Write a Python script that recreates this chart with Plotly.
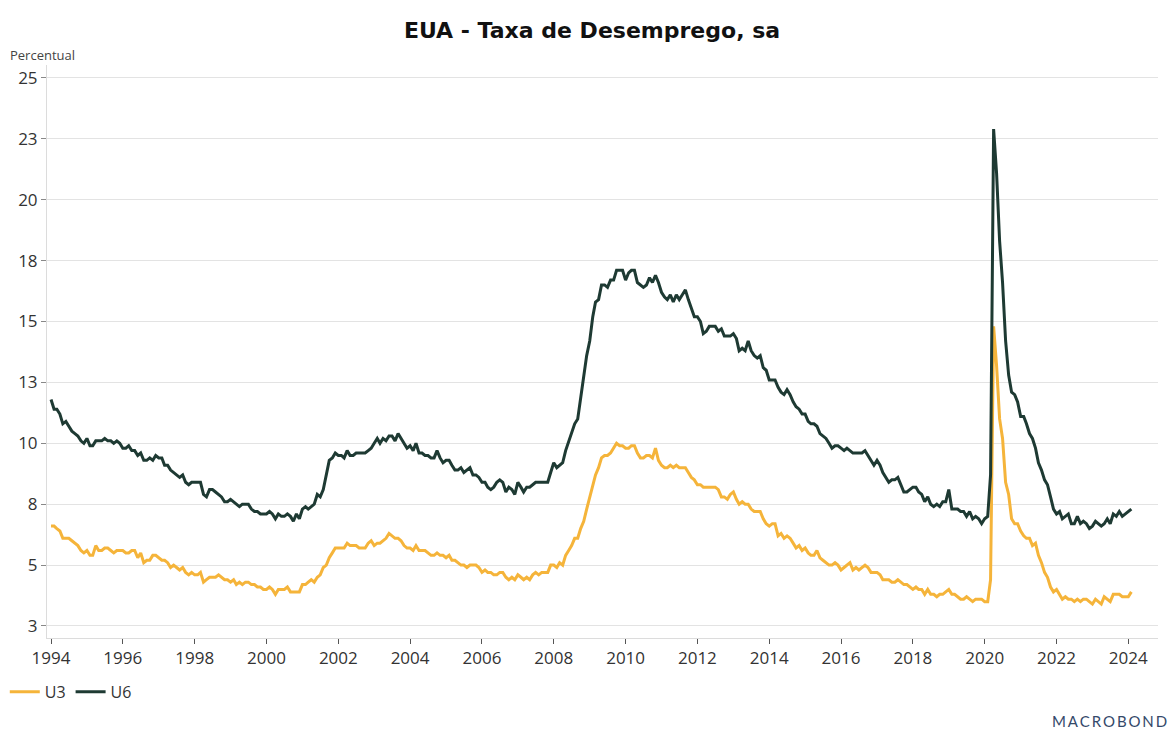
import plotly.graph_objects as go

# Monthly data, Jan 1994 - Feb 2024
start_year = 1994
u3_by_year = [
    [6.6, 6.6, 6.5, 6.4, 6.1, 6.1, 6.1, 6.0, 5.9, 5.8, 5.6, 5.5],  # 1994
    [5.6, 5.4, 5.4, 5.8, 5.6, 5.6, 5.7, 5.7, 5.6, 5.5, 5.6, 5.6],  # 1995
    [5.6, 5.5, 5.5, 5.6, 5.6, 5.3, 5.5, 5.1, 5.2, 5.2, 5.4, 5.4],  # 1996
    [5.3, 5.2, 5.2, 5.1, 4.9, 5.0, 4.9, 4.8, 4.9, 4.7, 4.6, 4.7],  # 1997
    [4.6, 4.6, 4.7, 4.3, 4.4, 4.5, 4.5, 4.5, 4.6, 4.5, 4.4, 4.4],  # 1998
    [4.3, 4.4, 4.2, 4.3, 4.2, 4.3, 4.3, 4.2, 4.2, 4.1, 4.1, 4.0],  # 1999
    [4.0, 4.1, 4.0, 3.8, 4.0, 4.0, 4.0, 4.1, 3.9, 3.9, 3.9, 3.9],  # 2000
    [4.2, 4.2, 4.3, 4.4, 4.3, 4.5, 4.6, 4.9, 5.0, 5.3, 5.5, 5.7],  # 2001
    [5.7, 5.7, 5.7, 5.9, 5.8, 5.8, 5.8, 5.7, 5.7, 5.7, 5.9, 6.0],  # 2002
    [5.8, 5.9, 5.9, 6.0, 6.1, 6.3, 6.2, 6.1, 6.1, 6.0, 5.8, 5.7],  # 2003
    [5.7, 5.6, 5.8, 5.6, 5.6, 5.6, 5.5, 5.4, 5.4, 5.5, 5.4, 5.4],  # 2004
    [5.3, 5.4, 5.2, 5.2, 5.1, 5.0, 5.0, 4.9, 5.0, 5.0, 5.0, 4.9],  # 2005
    [4.7, 4.8, 4.7, 4.7, 4.6, 4.6, 4.7, 4.7, 4.5, 4.4, 4.5, 4.4],  # 2006
    [4.6, 4.5, 4.4, 4.5, 4.4, 4.6, 4.7, 4.6, 4.7, 4.7, 4.7, 5.0],  # 2007
    [5.0, 4.9, 5.1, 5.0, 5.4, 5.6, 5.8, 6.1, 6.1, 6.5, 6.8, 7.3],  # 2008
    [7.8, 8.3, 8.7, 9.0, 9.4, 9.5, 9.5, 9.6, 9.8, 10.0, 9.9, 9.9],  # 2009
    [9.8, 9.8, 9.9, 9.9, 9.6, 9.4, 9.4, 9.5, 9.5, 9.4, 9.8, 9.3],  # 2010
    [9.1, 9.0, 9.0, 9.1, 9.0, 9.1, 9.0, 9.0, 9.0, 8.8, 8.6, 8.5],  # 2011
    [8.3, 8.3, 8.2, 8.2, 8.2, 8.2, 8.2, 8.1, 7.8, 7.8, 7.7, 7.9],  # 2012
    [8.0, 7.7, 7.5, 7.6, 7.5, 7.5, 7.3, 7.2, 7.2, 7.2, 6.9, 6.7],  # 2013
    [6.6, 6.7, 6.7, 6.2, 6.3, 6.1, 6.2, 6.1, 5.9, 5.7, 5.8, 5.6],  # 2014
    [5.7, 5.5, 5.4, 5.4, 5.6, 5.3, 5.2, 5.1, 5.0, 5.0, 5.1, 5.0],  # 2015
    [4.8, 4.9, 5.0, 5.1, 4.8, 4.9, 4.8, 4.9, 5.0, 4.9, 4.7, 4.7],  # 2016
    [4.7, 4.6, 4.4, 4.4, 4.4, 4.3, 4.3, 4.4, 4.3, 4.2, 4.2, 4.1],  # 2017
    [4.0, 4.1, 4.0, 4.0, 3.8, 4.0, 3.8, 3.8, 3.7, 3.8, 3.8, 3.9],  # 2018
    [4.0, 3.8, 3.8, 3.7, 3.6, 3.6, 3.7, 3.6, 3.5, 3.6, 3.6, 3.6],  # 2019
    [3.5, 3.5, 4.4, 14.8, 13.2, 11.0, 10.2, 8.4, 7.9, 6.9, 6.7, 6.7],  # 2020
    [6.4, 6.2, 6.1, 6.1, 5.8, 5.9, 5.4, 5.1, 4.7, 4.5, 4.1, 3.9],  # 2021
    [4.0, 3.8, 3.6, 3.7, 3.6, 3.6, 3.5, 3.6, 3.5, 3.6, 3.6, 3.5],  # 2022
    [3.4, 3.6, 3.5, 3.4, 3.7, 3.6, 3.5, 3.8, 3.8, 3.8, 3.7, 3.7],  # 2023
    [3.7, 3.9],                                                    # 2024
]
u6_by_year = [
    [11.8, 11.4, 11.4, 11.2, 10.8, 10.9, 10.7, 10.5, 10.4, 10.3, 10.1, 10.0],  # 1994
    [10.2, 9.9, 9.9, 10.1, 10.1, 10.1, 10.2, 10.1, 10.1, 10.0, 10.1, 10.0],    # 1995
    [9.8, 9.8, 9.9, 9.7, 9.7, 9.5, 9.6, 9.3, 9.3, 9.4, 9.3, 9.5],              # 1996
    [9.4, 9.4, 9.1, 9.1, 8.9, 8.8, 8.7, 8.6, 8.7, 8.4, 8.3, 8.4],              # 1997
    [8.4, 8.4, 8.4, 7.9, 7.8, 8.1, 8.1, 8.0, 7.9, 7.8, 7.6, 7.6],              # 1998
    [7.7, 7.6, 7.5, 7.4, 7.5, 7.5, 7.5, 7.3, 7.2, 7.2, 7.1, 7.1],              # 1999
    [7.1, 7.2, 7.1, 6.9, 7.1, 7.0, 7.0, 7.1, 7.0, 6.8, 7.1, 6.9],              # 2000
    [7.3, 7.4, 7.3, 7.4, 7.5, 7.9, 7.8, 8.1, 8.7, 9.3, 9.4, 9.6],              # 2001
    [9.5, 9.5, 9.4, 9.7, 9.5, 9.5, 9.6, 9.6, 9.6, 9.6, 9.7, 9.8],              # 2002
    [10.0, 10.2, 10.0, 10.2, 10.1, 10.3, 10.3, 10.1, 10.4, 10.2, 10.0, 9.8],   # 2003
    [9.9, 9.7, 10.0, 9.6, 9.6, 9.5, 9.5, 9.4, 9.4, 9.7, 9.4, 9.2],             # 2004
    [9.3, 9.3, 9.1, 8.9, 8.9, 9.0, 8.8, 8.9, 9.0, 8.7, 8.7, 8.6],              # 2005
    [8.4, 8.4, 8.2, 8.1, 8.2, 8.4, 8.5, 8.4, 8.0, 8.2, 8.1, 7.9],              # 2006
    [8.4, 8.2, 8.0, 8.2, 8.2, 8.3, 8.4, 8.4, 8.4, 8.4, 8.4, 8.8],              # 2007
    [9.2, 9.0, 9.1, 9.2, 9.7, 10.1, 10.5, 10.8, 11.0, 11.8, 12.7, 13.6],       # 2008
    [14.2, 15.2, 15.8, 15.9, 16.5, 16.5, 16.4, 16.7, 16.7, 17.1, 17.1, 17.1],  # 2009
    [16.7, 17.0, 17.1, 17.1, 16.6, 16.5, 16.4, 16.5, 16.8, 16.6, 16.9, 16.6],  # 2010
    [16.2, 16.0, 15.9, 16.1, 15.8, 16.1, 15.9, 16.1, 16.3, 15.9, 15.5, 15.2],  # 2011
    [15.2, 15.0, 14.5, 14.6, 14.8, 14.8, 14.8, 14.6, 14.7, 14.4, 14.4, 14.4],  # 2012
    [14.5, 14.3, 13.8, 13.9, 13.8, 14.2, 13.8, 13.6, 13.5, 13.6, 13.1, 13.0],  # 2013
    [12.6, 12.6, 12.6, 12.3, 12.1, 12.0, 12.2, 12.0, 11.7, 11.5, 11.4, 11.2],  # 2014
    [11.2, 10.9, 10.8, 10.8, 10.7, 10.4, 10.3, 10.2, 10.0, 9.8, 9.9, 9.9],     # 2015
    [9.8, 9.7, 9.8, 9.7, 9.6, 9.6, 9.6, 9.6, 9.7, 9.5, 9.3, 9.1],              # 2016
    [9.3, 9.1, 8.8, 8.6, 8.4, 8.5, 8.5, 8.6, 8.3, 8.0, 8.0, 8.1],              # 2017
    [8.2, 8.2, 8.0, 7.9, 7.6, 7.8, 7.5, 7.4, 7.5, 7.4, 7.6, 7.6],              # 2018
    [8.1, 7.3, 7.3, 7.3, 7.2, 7.2, 7.0, 7.2, 6.9, 7.0, 6.9, 6.7],              # 2019
    [6.9, 7.0, 8.7, 22.9, 21.1, 18.3, 16.6, 14.2, 12.8, 12.1, 12.0, 11.7],     # 2020
    [11.1, 11.1, 10.8, 10.4, 10.2, 9.8, 9.2, 8.9, 8.5, 8.3, 7.8, 7.3],         # 2021
    [7.1, 7.2, 6.9, 7.0, 7.1, 6.7, 6.7, 7.0, 6.7, 6.8, 6.7, 6.5],              # 2022
    [6.6, 6.8, 6.7, 6.6, 6.7, 6.9, 6.7, 7.1, 7.0, 7.2, 7.0, 7.1],              # 2023
    [7.2, 7.3],                                                                # 2024
]

y_tickvals = [2.5, 5, 7.5, 10, 12.5, 15, 17.5, 20, 22.5, 25]
y_ticktext = ["3", "5", "8", "10", "13", "15", "18", "20", "23", "25"]

def months(by_year):
    dates, vals = [], []
    for i, row in enumerate(by_year):
        for m, v in enumerate(row):
            dates.append(f"{start_year + i}-{m + 1:02d}-01")
            vals.append(v)
    return dates, vals

d3, v3 = months(u3_by_year)
d6, v6 = months(u6_by_year)

U3_COLOR = "#F5B43A"
U6_COLOR = "#1E3A33"
FONT = "Open Sans"

fig = go.Figure()
fig.add_trace(go.Scatter(x=d3, y=v3, name="U3", mode="lines",
                         line=dict(color=U3_COLOR, width=3)))
fig.add_trace(go.Scatter(x=d6, y=v6, name="U6", mode="lines",
                         line=dict(color=U6_COLOR, width=3)))

fig.update_layout(
    width=1169, height=729,
    margin=dict(l=47, r=11, t=65, b=91, autoexpand=False),
    paper_bgcolor="white", plot_bgcolor="white",
    font=dict(family=FONT, color="#333333", size=16),
    title=dict(text="<b>EUA - Taxa de Desemprego, sa</b>",
               font=dict(family="DejaVu Sans", size=22, color="#111111"),
               x=592 / 1169, xanchor="center", xref="container",
               y=1 - 30 / 729, yanchor="middle", yref="container"),
    showlegend=True,
    legend=dict(orientation="h", x=-0.038, xanchor="left",
                y=-0.094, yanchor="middle",
                font=dict(size=16, color="#333333"),
                itemwidth=30, tracegroupgap=0, bgcolor="rgba(0,0,0,0)"),
    xaxis=dict(type="date", range=["1993-11-21", "2024-10-29"],
               tick0="1994-01-01", dtick="M24", tickformat="%Y",
               ticks="outside", ticklen=5, tickcolor="#555555",
               showgrid=False, showline=True, linecolor="#dcdcdc",
               linewidth=1, tickfont=dict(size=17, color="#333333"),
               zeroline=False, automargin=False),
    yaxis=dict(range=[2.007, 25.53], tickvals=y_tickvals,
               ticktext=y_ticktext, ticks="outside", ticklen=5,
               tickcolor="#888888", showgrid=True, gridcolor="#e3e3e3",
               gridwidth=1, showline=True, linecolor="#dcdcdc",
               linewidth=1, tickfont=dict(size=17, color="#333333"),
               zeroline=False, automargin=False),
)

fig.add_annotation(text="Percentual", xref="paper", yref="paper",
                   x=-0.035, xanchor="left", y=1 + (65 - 55) / 573,
                   yanchor="middle", showarrow=False,
                   font=dict(size=13, color="#444444"))
fig.add_annotation(text="M\u2009A\u2009C\u2009R\u2009O\u2009B\u2009O\u2009N\u2009D",
                   xref="paper", yref="paper",
                   x=1 + 11 / 1110, xanchor="right", y=-(721 - 638) / 573,
                   yanchor="middle", showarrow=False,
                   font=dict(size=15, color="#34496A", family="Lato"))

fig.write_html("out.html",
               config={"displayModeBar": False},
               post_script="document.body.style.margin='0';"
                           "document.body.style.overflow='hidden';")
